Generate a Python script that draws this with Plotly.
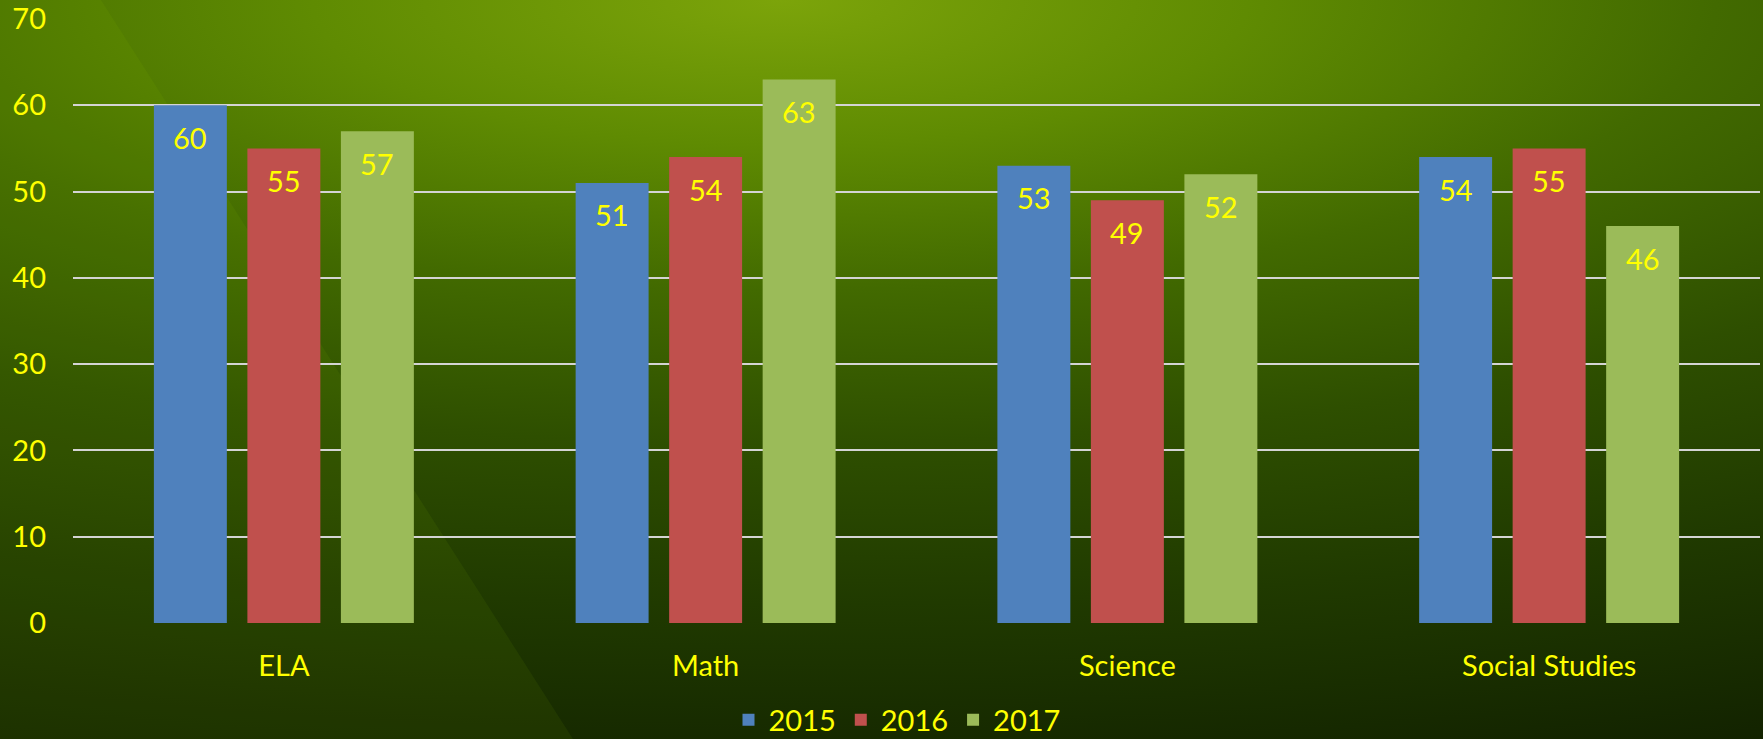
import base64
import plotly.graph_objects as go

categories = ["ELA", "Math", "Science", "Social Studies"]
years = ["2015", "2016", "2017"]
values_2015 = [60, 51, 53, 54]
values_2016 = [55, 54, 49, 55]
values_2017 = [57, 63, 52, 46]
y_ticks = [0, 10, 20, 30, 40, 50, 60, 70]

series = [values_2015, values_2016, values_2017]
colors = ["#4f81bd", "#c0504d", "#9bbb59"]

W, H = 1763, 739
ML, MR, MT, MB = 73, 3, 19, 116
FONT = "Lato"
YEL = "#ffff00"
FS = 29

bar_w = 0.173
slot = 0.2217

svg = f"""<svg xmlns='http://www.w3.org/2000/svg' width='{W}' height='{H}' viewBox='0 0 {W} {H}' preserveAspectRatio='none'>
<defs>
<radialGradient id='g' cx='0' cy='0' r='2600' gradientUnits='userSpaceOnUse' gradientTransform='translate(780,0) scale(1,0.31)'>
<stop offset='0' stop-color='#7ca40a'/>
<stop offset='0.18' stop-color='#5f8b02'/>
<stop offset='0.36' stop-color='#426a00'/>
<stop offset='0.55' stop-color='#2e4f00'/>
<stop offset='0.75' stop-color='#203a00'/>
<stop offset='1' stop-color='#122200'/>
</radialGradient>
</defs>
<rect x='0' y='0' width='{W}' height='{H}' fill='url(#g)'/>
<polygon points='0,0 101,0 573,{H} 0,{H}' fill='#9ad000' fill-opacity='0.07'/>
</svg>"""
src = "data:image/svg+xml;base64," + base64.b64encode(svg.encode()).decode()

pw = W - ML - MR
ph = H - MT - MB

fig = go.Figure()
xs = list(range(len(categories)))
for i, (yr, vals, col) in enumerate(zip(years, series, colors)):
    off = (i - 1) * slot - bar_w / 2
    fig.add_trace(go.Bar(
        x=xs, y=vals, name=yr, width=bar_w, offset=off,
        marker=dict(color=col, line=dict(width=0)),
    ))
    for j, v in enumerate(vals):
        fig.add_annotation(
            x=j + (i - 1) * slot, y=v, xref="x", yref="y",
            text=str(v), showarrow=False, yshift=-32, yanchor="middle",
            font=dict(family=FONT, size=FS, color=YEL),
        )

fig.add_layout_image(dict(
    source=src, xref="paper", yref="paper",
    x=-ML / pw, y=1 + MT / ph, sizex=W / pw, sizey=H / ph,
    xanchor="left", yanchor="top", sizing="stretch", layer="below",
))

fig.update_layout(
    width=W, height=H, autosize=False,
    margin=dict(l=ML, r=MR, t=MT, b=MB, pad=0, autoexpand=False),
    paper_bgcolor="#1a2c00", plot_bgcolor="rgba(0,0,0,0)",
    font=dict(family=FONT, size=FS, color=YEL),
    barmode="group",
    showlegend=True,
    legend=dict(orientation="h", x=(897 - ML) / pw, xanchor="center", y=-97 / ph, yanchor="middle",
                font=dict(family=FONT, size=FS, color=YEL), bgcolor="rgba(0,0,0,0)",
                itemwidth=30),
    xaxis=dict(range=[-0.5, 3.5], tickvals=xs, ticktext=categories, showgrid=False,
               zeroline=False, showline=False, ticks="", ticklabelstandoff=23,
               tickfont=dict(family=FONT, size=FS, color=YEL)),
    yaxis=dict(range=[0, 70], tickvals=y_ticks, showgrid=True, gridcolor="#d4d4d4",
               gridwidth=2, zeroline=False, showline=False, ticks="",
               ticklabelstandoff=26, tickfont=dict(family=FONT, size=FS, color=YEL)),
)

fig.write_html("out.html", config={"displayModeBar": False},
               post_script="document.body.style.margin='0';")
